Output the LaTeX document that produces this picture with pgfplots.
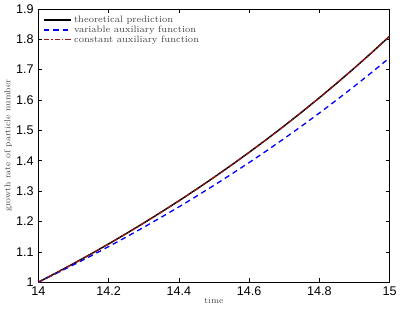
\documentclass[border=0pt]{standalone}
\usepackage{fontspec}
\setsansfont{Liberation Sans}
\usepackage{pgfplots}
\pgfplotsset{compat=1.18}
\definecolor{dred}{RGB}{160,20,20}
\definecolor{txtgray}{RGB}{70,70,70}
\begin{document}
\begin{tikzpicture}
\begin{axis}[
  scale only axis,
  width=264.75pt, height=206pt,
  xmin=14, xmax=15, ymin=1, ymax=1.9,
  xtick={14,14.2,14.4,14.6,14.8,15},
  ytick={1,1.1,1.2,1.3,1.4,1.5,1.6,1.7,1.8,1.9},
  xticklabels={14,14.2,14.4,14.6,14.8,15},
  yticklabels={1,1.1,1.2,1.3,1.4,1.5,1.6,1.7,1.8,1.9},
  tick align=inside,
  tick style={black, line width=0.4pt},
  major tick length=3pt,
  ticklabel style={font=\sffamily\fontsize{9.5}{10}\selectfont},
  xlabel={time}, ylabel={growth rate of particle number},
  label style={font=\fontsize{6.5}{7}\selectfont, text=txtgray},
  xlabel style={yshift=5pt},
  ylabel style={yshift=-4pt},
  axis line style={black, line width=0.5pt},
  legend style={at={(0.01,0.99)}, anchor=north west, draw=none, fill=none,
    font=\fontsize{7}{8}\selectfont, text=txtgray,
    row sep=-3pt, inner sep=1pt},
  legend cell align=left,
  legend image code/.code={\draw[#1] (0pt,0pt) -- (20pt,0pt);},
]
\addplot[black, line width=1.1pt] coordinates {
(14,1) (14.05,1.0301) (14.1,1.0611) (14.15,1.0930) (14.2,1.1259) (14.25,1.1599)
(14.3,1.1948) (14.35,1.2308) (14.4,1.2677) (14.45,1.3059) (14.5,1.3452)
(14.55,1.3857) (14.6,1.4274) (14.65,1.4704) (14.7,1.5146) (14.75,1.5602)
(14.8,1.6072) (14.85,1.6556) (14.9,1.7054) (14.95,1.7568) (15,1.8100)};
\addlegendentry{theoretical prediction}
\addplot[blue, dashed, line width=1.0pt, dash pattern=on 4pt off 3pt] coordinates {
(14,1) (14.05,1.0281) (14.1,1.0570) (14.15,1.0866) (14.2,1.1171) (14.25,1.1485)
(14.3,1.1807) (14.35,1.2139) (14.4,1.2478) (14.45,1.2829) (14.5,1.3188)
(14.55,1.3558) (14.6,1.3938) (14.65,1.4329) (14.7,1.4731) (14.75,1.5144)
(14.8,1.5569) (14.85,1.6006) (14.9,1.6454) (14.95,1.6916) (15,1.7390)};
\addlegendentry{variable auxiliary function}
\addplot[dred, line width=0.9pt, dash pattern=on 4pt off 1.5pt on 1pt off 1.5pt] coordinates {
(14,1) (14.05,1.0299) (14.1,1.0608) (14.15,1.0927) (14.2,1.1256) (14.25,1.1596)
(14.3,1.1945) (14.35,1.2305) (14.4,1.2674) (14.45,1.3056) (14.5,1.3449)
(14.55,1.3854) (14.6,1.4271) (14.65,1.4701) (14.7,1.5143) (14.75,1.5599)
(14.8,1.6069) (14.85,1.6553) (14.9,1.7051) (14.95,1.7565) (15,1.8097)};
\addlegendentry{constant auxiliary function}
\end{axis}
\end{tikzpicture}
\end{document}
